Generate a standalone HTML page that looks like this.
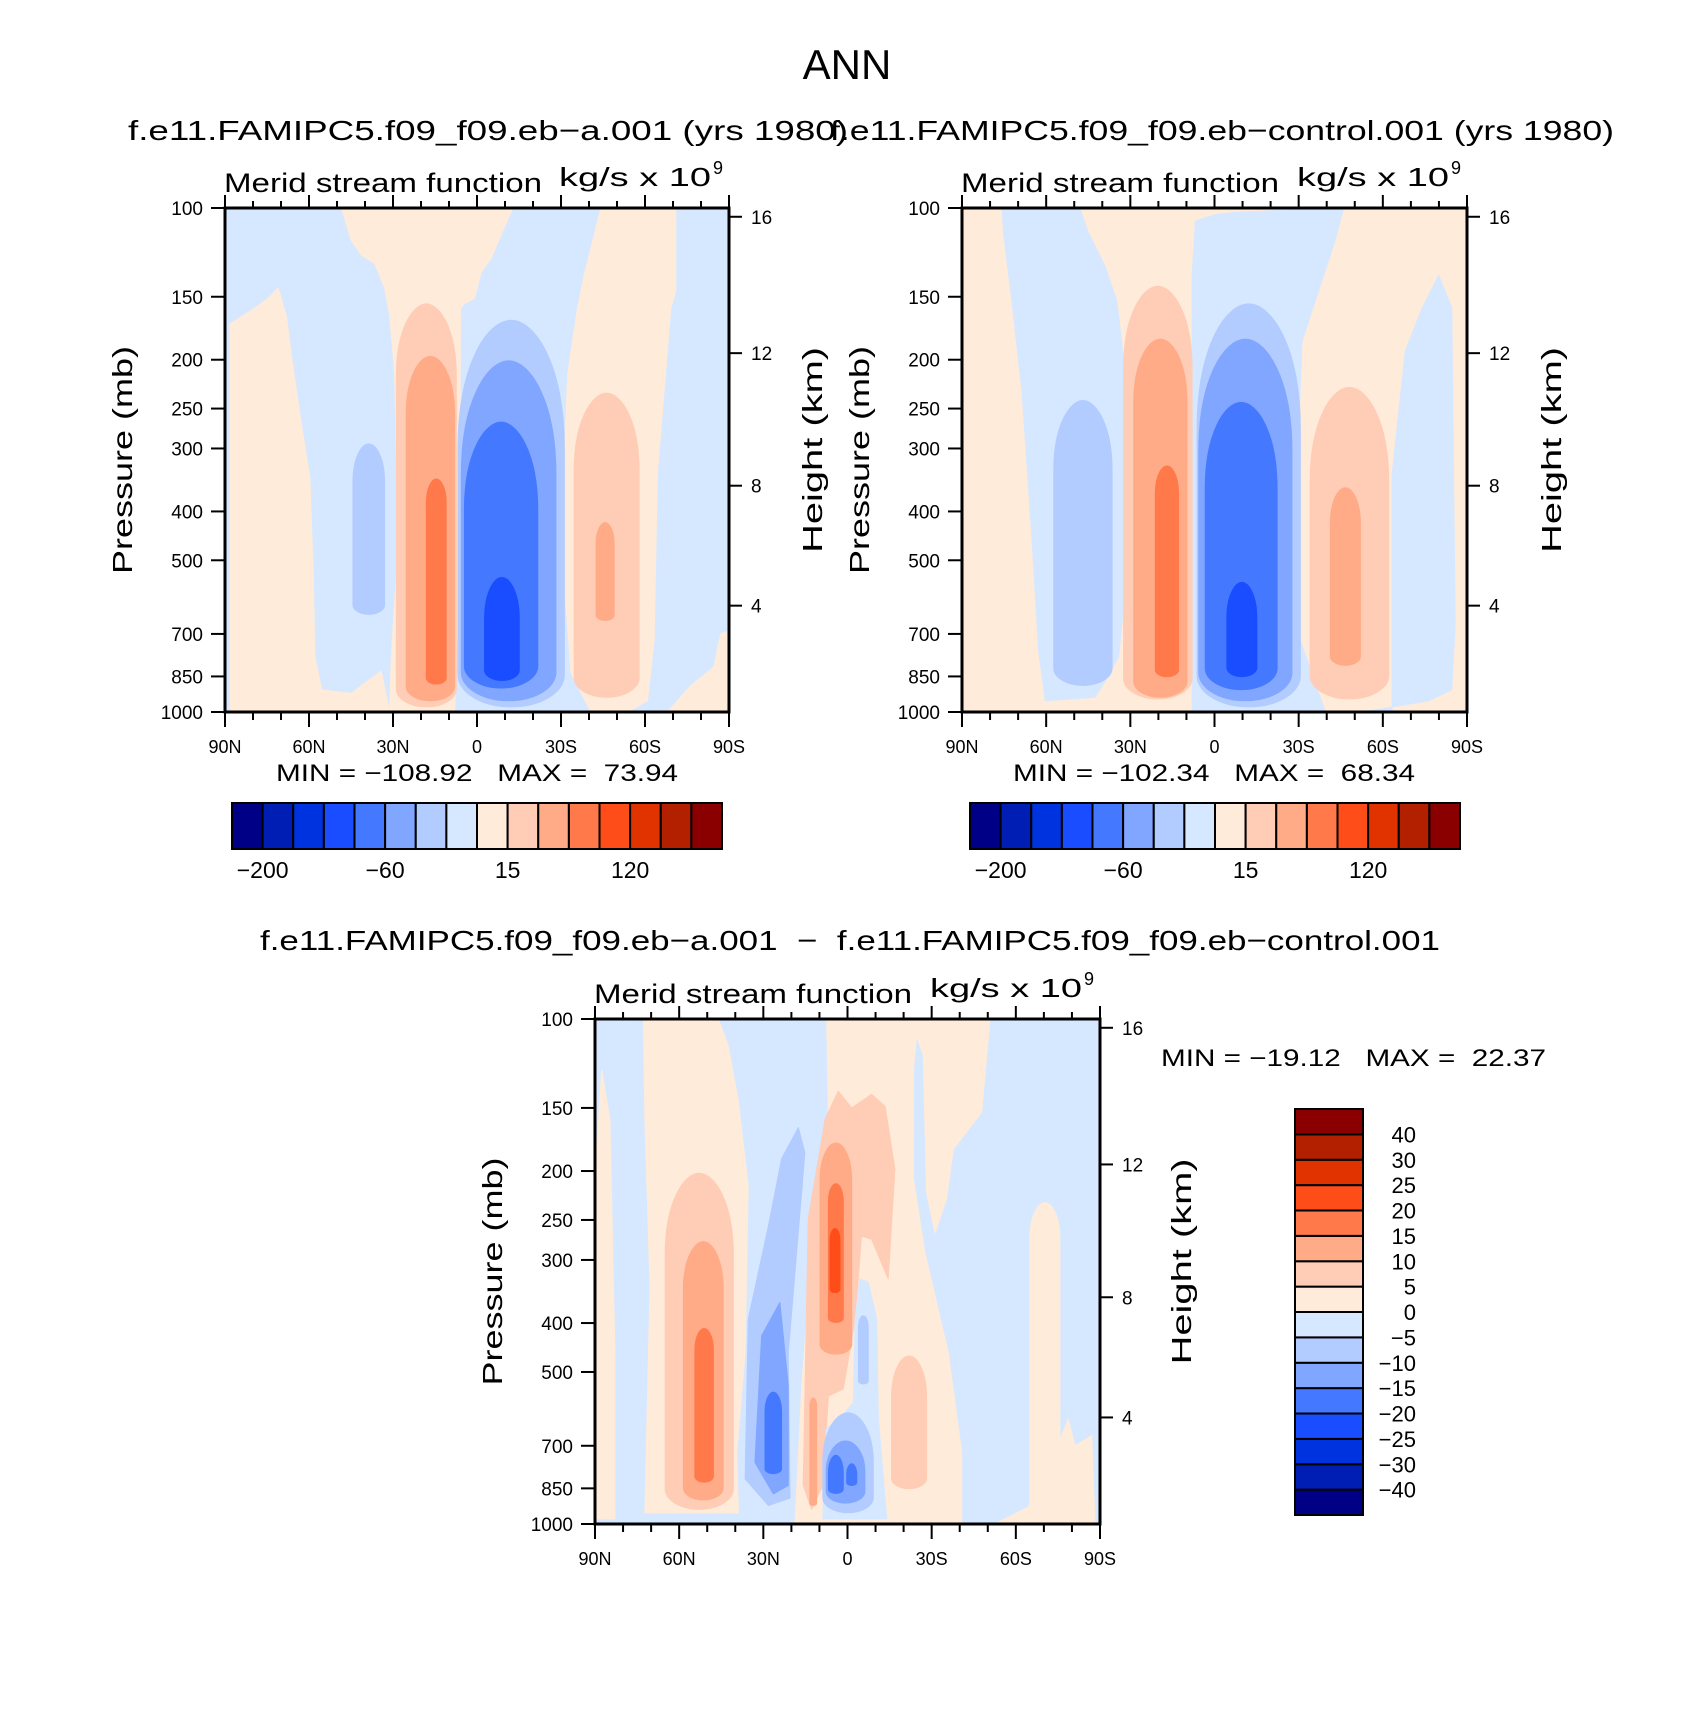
<!DOCTYPE html>
<html><head><meta charset="utf-8">
<style>
html,body{margin:0;padding:0;background:#fff;}
svg{display:block;font-family:"Liberation Sans",sans-serif;}
text{white-space:pre;}
</style></head>
<body>
<svg id="fig" width="1694" height="1725" viewBox="0 0 1694 1725" xmlns="http://www.w3.org/2000/svg">
<rect width="1694" height="1725" fill="#fff"/>
<text x="847" y="79" font-size="42" text-anchor="middle" fill="#000">ANN</text>
<text x="128" y="140" font-size="28" textLength="720" lengthAdjust="spacingAndGlyphs" fill="#000">f.e11.FAMIPC5.f09_f09.eb−a.001 (yrs 1980)</text>
<text x="830" y="140" font-size="28" textLength="784" lengthAdjust="spacingAndGlyphs" fill="#000">f.e11.FAMIPC5.f09_f09.eb−control.001 (yrs 1980)</text>
<text x="260" y="950" font-size="28" textLength="1180" lengthAdjust="spacingAndGlyphs" fill="#000">f.e11.FAMIPC5.f09_f09.eb−a.001  −  f.e11.FAMIPC5.f09_f09.eb−control.001</text>
<g id="plots"></g>
</svg>
<script>
// colour levels (index 0..15)
const levelColors = ["#000086","#001eb4","#0033e0","#1a4dff","#4479ff","#80a6ff","#b3ccff","#d6e8ff","#ffebd9","#ffccb5","#ffab87","#ff794a","#ff4d19","#e03300","#b32000","#8a0000"];
const latTicks = [90,60,30,0,-30,-60,-90];
const latTickLabels = ["90N","60N","30N","0","30S","60S","90S"];
const presTicks = [100,150,200,250,300,400,500,700,850,1000];
const heightTicks = [16,12,8,4];
const heightTickFrac = [0.0174,0.288,0.551,0.789];
const topBarLabels = ["−200","−60","15","120"];
const topBarLabelIdx = [1,5,9,13];
const diffBarLabels = ["40","30","25","20","15","10","5","0","−5","−10","−15","−20","−25","−30","−40"];

// shapes: [type, level, data]; poly data = [[lat,p],...]; blob data = [latLeft,latRight,pTop,pBottom]
const p1Shapes = [
 ['poly',8,[[88.2,1000],[88.2,170],[79.3,158],[74.6,151],[71,144],[68,165],[66.2,198],[62.7,269],[59.7,342],[58.5,532],[57.9,778],[55.5,903],[44.9,919],[38.9,866],[34.2,830],[31.2,1000]]],
 ['poly',8,[[48.4,100],[44.9,116],[41.3,124],[36.5,129],[33,144],[31.2,163],[29.4,214],[28.8,338],[28.8,532],[30.6,778],[31.2,1000],[8,1000],[6.2,458],[5.9,158],[4.5,155],[0.9,151],[-1.5,134],[-5,126],[-8.6,113],[-12.8,100]]],
 ['poly',8,[[-44.2,100],[-71,100],[-71,146],[-69.2,158],[-64.4,338],[-63.3,721],[-60.9,950],[-53.8,1000],[-40.7,1000],[-33.6,838],[-30,458],[-32.4,214],[-35.9,158],[-38.3,136],[-41.9,113]]],
 ['poly',8,[[-68,1000],[-76.3,887],[-84.6,814],[-87,700],[-90,689],[-90,1000]]],
 ['blob',9,[28.8,7.4,155,977]],
 ['blob',10,[25.3,8,197,950]],
 ['blob',11,[18.1,11,345,880]],
 ['blob',6,[44.3,33,294,640]],
 ['blob',6,[6.8,-31.2,167,977]],
 ['blob',5,[5.6,-28.2,201,950]],
 ['blob',4,[4.5,-21.7,266,896]],
 ['blob',3,[-2.7,-15.1,541,866]],
 ['blob',9,[-34.7,-57.9,233,935]],
 ['blob',10,[-42.5,-49,421,658]]
];
const p2Shapes = [
 ['poly',7,[[75.7,100],[48,100],[44.9,112],[38.9,131],[34.8,153],[31.8,214],[30.6,338],[31.2,532],[34.2,778],[38.9,866],[42.5,935],[60.3,950],[62.7,755],[65,458],[68.6,231],[72.2,153],[75.2,112]]],
 ['poly',7,[[8,1000],[8,136],[6.8,106],[-0.3,103],[-7.4,102],[-46,100],[-43,116],[-35.9,153],[-31.2,184],[-29.4,338],[-30.6,721],[-39.5,1000]]],
 ['poly',7,[[-63.3,1000],[-63.3,338],[-68,192],[-74,158],[-79.9,136],[-84.6,158],[-85.8,669],[-84.6,903],[-76.3,950],[-52.6,1000]]],
 ['blob',6,[57.3,36.5,241,886]],
 ['blob',6,[6.2,-30.6,155,977]],
 ['blob',5,[5.6,-27.6,182,950]],
 ['blob',4,[3.3,-22.3,243,903]],
 ['blob',3,[-4.4,-15.1,553,851]],
 ['blob',9,[32.4,8,143,942]],
 ['blob',10,[28.8,9.8,182,935]],
 ['blob',11,[21.1,12.8,325,851]],
 ['blob',9,[-34.1,-62.1,227,942]],
 ['blob',10,[-41.3,-52,359,808]]
];
const p3Shapes = [
 ['poly',8,[[72.8,100],[46,100],[42.5,113],[38.9,146],[35.4,214],[36.5,458],[39.5,721],[38.9,950],[72.2,950],[70.4,338],[72.2,158]]],
 ['poly',8,[[90,977],[90,206],[87.6,126],[84.7,158],[82.9,458],[82.9,977]]],
 ['blob',9,[65,40.7,202,935]],
 ['blob',10,[58.5,44.3,276,896]],
 ['blob',11,[54.4,47.8,410,826]],
 ['poly',6,[[17.5,164],[15.2,184],[21.1,458],[20.5,889],[28.2,919],[36.5,814],[35.4,393],[28.2,257],[23.5,189]]],
 ['poly',5,[[24.1,364],[21.1,532],[21.1,839],[26.4,872],[33,755],[30.6,424]]],
 ['blob',4,[29.4,23.5,548,795]],
 ['poly',8,[[7.4,100],[-50.8,100],[-47.8,153],[-37.7,181],[-35.3,227],[-31.2,265],[-28.2,221],[-27,118],[-24.6,108],[-23.5,126],[-23.5,207],[-27.6,290],[-35.9,458],[-40.7,721],[-40.7,1000],[18.7,1000],[16.3,532],[12.8,290],[6.8,158]]],
 ['poly',9,[[3.3,139],[-1.5,150],[-8.6,141],[-13.4,149],[-16.9,198],[-14.5,327],[-8.6,273],[-5,269],[-2.7,393],[1.5,540],[6.8,558],[8.8,839],[12.8,935],[15.8,839],[14,249],[8,158]]],
 ['blob',10,[9.8,-1.5,176,461]],
 ['blob',11,[6.8,1.5,212,399]],
 ['blob',12,[6.2,2.7,260,348]],
 ['blob',10,[13.4,11,563,919]],
 ['blob',9,[-15.7,-28.2,465,851]],
 ['poly',7,[[8.8,977],[7.6,648],[2.1,611],[-2.1,575],[-2.7,393],[-4.4,327],[-7.4,332],[-10.4,393],[-11,620],[-14,977]]],
 ['blob',6,[-3.9,-7.4,387,528]],
 ['blob',6,[8.8,-9.2,602,950]],
 ['blob',5,[7.6,-6.2,685,909]],
 ['blob',4,[6.8,1.5,731,870]],
 ['blob',4,[0.3,-3.3,760,839]],
 ['blob',8,[-65,-75.7,231,950]],
 ['poly',8,[[-52.6,1000],[-64.4,925],[-74,721],[-78.7,620],[-81.1,700],[-87,669],[-88.2,1000]]]
];
const panelMin = ["−108.92","−102.34","−19.12"];
const panelMax = ["73.94","68.34","22.37"];

const NS="http://www.w3.org/2000/svg";
const root=document.getElementById('plots');
function mk(tag,attrs,parent){const e=document.createElementNS(NS,tag);for(const k in attrs)e.setAttribute(k,attrs[k]);(parent||root).appendChild(e);return e;}

function drawPanel(id,x0,y0,w,h,bg,shapes,pLab,hLab){
  const xs=lat=>x0+(90-lat)/180*w;
  const ys=p=>y0+(Math.log10(p)-2)*h;
  const g=mk('g',{});
  
  
  const cp=mk('clipPath',{id:id+'-clip'},g);
  mk('rect',{x:x0,y:y0,width:w,height:h},cp);
  const field=mk('g',{'clip-path':'url(#'+id+'-clip)'},g);
  
  
  const bgr=mk('rect',{x:x0,y:y0,width:w,height:h,fill:levelColors[bg]},field);
  
  
  shapes.forEach(s=>{
    const col=levelColors[s[1]];
    let d='';
    if(s[0]==='poly'){
      d=s[2].map((pt,i)=>(i?'L':'M')+xs(pt[0]).toFixed(1)+' '+ys(pt[1]).toFixed(1)).join(' ')+'Z';
    } else {
      const a=s[2];const xl=xs(a[0]),xr=xs(a[1]),yt=ys(a[2]),yb=ys(a[3]);
      const rx=(xr-xl)/2,hh=yb-yt,xm=(xl+xr)/2;
      const ryt=Math.min(rx*2.4,hh*0.5),ryb=Math.min(rx*0.6,hh*0.3);
      d=`M${xl} ${yt+ryt} C${xl} ${yt+ryt*0.35} ${xm-rx*0.45} ${yt} ${xm} ${yt} C${xm+rx*0.45} ${yt} ${xr} ${yt+ryt*0.35} ${xr} ${yt+ryt} L${xr} ${yb-ryb} A${rx} ${ryb} 0 0 1 ${xl} ${yb-ryb} Z`;
    }
    const pth=mk('path',{d:d,fill:col,stroke:col,'stroke-width':1,'stroke-linejoin':'round'},field);
    
    
  });
  const fr=mk('rect',{x:x0,y:y0,width:w,height:h,fill:'none',stroke:'#000','stroke-width':3},g);
  
  
  for(let lat=90;lat>=-90;lat-=10){
    const x=xs(lat),major=(lat%30===0);
    mk('line',{x1:x,x2:x,y1:y0+h,y2:y0+h+(major?15:8),stroke:'#000','stroke-width':2},g);
    mk('line',{x1:x,x2:x,y1:y0,y2:y0-(major?13:7),stroke:'#000','stroke-width':2},g);
  }
  latTicks.forEach((lat,i)=>{
    const t=mk('text',{x:xs(lat),y:y0+h+41,'font-size':18,'text-anchor':'middle'},g);
    t.textContent=latTickLabels[i];
    
    
  });
  presTicks.forEach(p=>{
    const y=ys(p);
    mk('line',{x1:x0,x2:x0-14,y1:y,y2:y,stroke:'#000','stroke-width':2},g);
    const t=mk('text',{x:x0-22,y:y+7,'font-size':19,'text-anchor':'end'},g);
    t.textContent=p;
    
    
  });
  heightTicks.forEach((hv,i)=>{
    const y=y0+heightTickFrac[i]*h;
    mk('line',{x1:x0+w,x2:x0+w+13,y1:y,y2:y,stroke:'#000','stroke-width':2},g);
    const t=mk('text',{x:x0+w+22,y:y+7,'font-size':19},g);
    t.textContent=hv;
    
    
  });
  const st=mk('text',{x:x0-1,y:y0-16,'font-size':27,textLength:318,lengthAdjust:'spacingAndGlyphs'},g);
  st.textContent='Merid stream function';
  
  
  const un=mk('text',{x:x0+w-170,y:y0-22,'font-size':26,textLength:152,lengthAdjust:'spacingAndGlyphs'},g);
  un.textContent='kg/s x 10';
  
  
  const sup=mk('text',{x:x0+w-16,y:y0-34,'font-size':18},g);
  sup.textContent='9';
  const pl=mk('text',{transform:`translate(${pLab},${y0+h*0.5}) rotate(-90)`,'font-size':28,'text-anchor':'middle',textLength:228,lengthAdjust:'spacingAndGlyphs'},g);
  pl.textContent='Pressure (mb)';
  
  
  const hl=mk('text',{transform:`translate(${hLab},${y0+h*0.48}) rotate(-90)`,'font-size':28,'text-anchor':'middle',textLength:206,lengthAdjust:'spacingAndGlyphs'},g);
  hl.textContent='Height (km)';
  
  
}
drawPanel('left',225,208,504,504,7,p1Shapes,132,822);
drawPanel('right',962,208,505,504,8,p2Shapes,869,1561);
drawPanel('diff',595,1019,505,505,7,p3Shapes,502,1191);

function minmax(i,x,y,len){
  const t=mk('text',{x:x,y:y,'font-size':24,textLength:len,lengthAdjust:'spacingAndGlyphs'});
  t.textContent='MIN = '+panelMin[i]+'   MAX =  '+panelMax[i];
  
  
}
minmax(0,276,781,402);
minmax(1,1013,781,402);
minmax(2,1161,1066,385);

function hbar(x0,y0,w,h,name){
  const g=mk('g',{});
  
  
  const bw=w/levelColors.length;
  levelColors.forEach((c,i)=>{
    const r=mk('rect',{x:x0+i*bw,y:y0,width:bw,height:h,fill:c,stroke:'#000','stroke-width':2},g);
    
    
  });
  topBarLabels.forEach((l,i)=>{
    const t=mk('text',{x:x0+topBarLabelIdx[i]*bw,y:y0+h+29,'font-size':23,'text-anchor':'middle'},g);
    t.textContent=l;
    
    
  });
}
hbar(232,803,490,46,'left-colorbar');
hbar(970,803,490,46,'right-colorbar');

(function vbar(){
  const x0=1295,y0=1109,w=68,h=406;
  const g=mk('g',{});
  
  
  const n=levelColors.length,bh=h/n;
  levelColors.forEach((c,i)=>{
    const r=mk('rect',{x:x0,y:y0+h-(i+1)*bh,width:w,height:bh,fill:c,stroke:'#000','stroke-width':2},g);
    
    
  });
  diffBarLabels.forEach((l,i)=>{
    const t=mk('text',{x:1416,y:y0+(i+1)*bh+8,'font-size':22,'text-anchor':'end'},g);
    t.textContent=l;
    
    
  });
})();
</script>
</body></html>
